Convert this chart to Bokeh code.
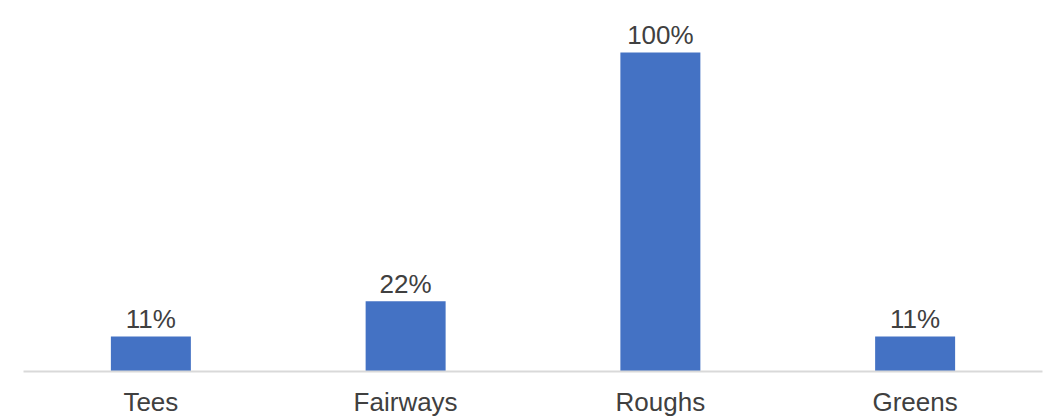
from bokeh.plotting import figure
from bokeh.models import ColumnDataSource, Range1d
from bokeh.core.properties import value
from bokeh.embed import file_html
from bokeh.resources import INLINE

categories = ["Tees", "Fairways", "Roughs", "Greens"]
values = [11, 22, 100, 11]
labels = ["11%", "22%", "100%", "11%"]

src = ColumnDataSource(dict(x=categories, top=values, label=labels))

p = figure(x_range=categories, y_range=Range1d(0, 116.3), width=1043, height=420,
           output_backend="svg", toolbar_location=None,
           min_border_left=23, min_border_right=1, min_border_top=0, min_border_bottom=49)
p.outline_line_color = None
p.xgrid.visible = False
p.ygrid.visible = False
p.yaxis.visible = False

p.vbar(x="x", top="top", width=0.314, source=src, color="#4472C4", line_color=None)
p.text(x="x", y="top", text="label", source=src, text_align="center",
       text_baseline="alphabetic", y_offset=-17, text_font=value("Liberation Sans"),
       text_font_size="26px", text_color="#404040")

ax = p.xaxis[0]
ax.axis_line_color = "#D9D9D9"
ax.axis_line_width = 2
ax.major_tick_line_color = None
ax.minor_tick_line_color = None
ax.major_tick_out = 0
ax.major_tick_in = 0
ax.major_label_standoff = 15
ax.major_label_text_font = "Liberation Sans"
ax.major_label_text_font_size = "26px"
ax.major_label_text_color = "#404040"

open("out.html", "w").write(file_html(p, INLINE))
